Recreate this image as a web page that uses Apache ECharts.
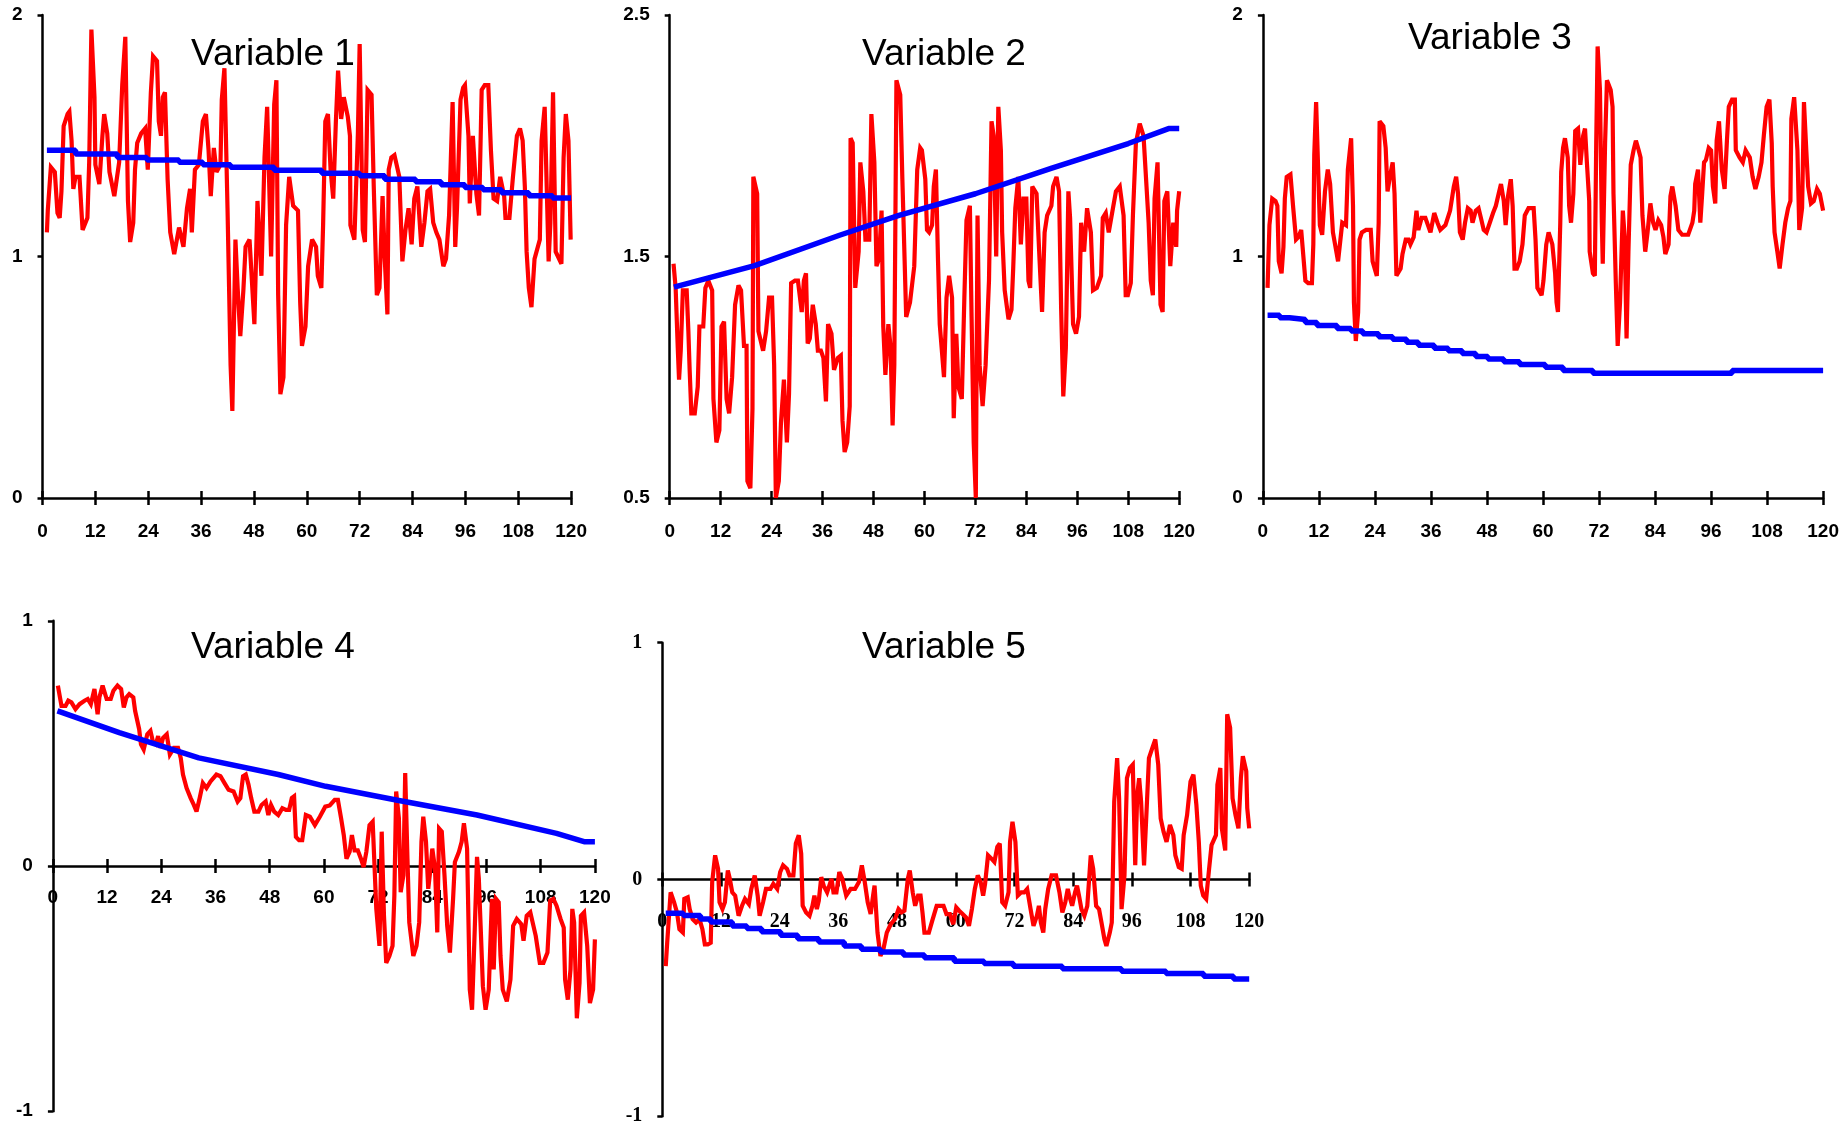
<!DOCTYPE html>
<html>
<head>
<meta charset="utf-8">
<script src="https://cdn.jsdelivr.net/npm/echarts@6/dist/echarts.min.js"></script>
<style>
  html, body { margin: 0; padding: 0; background: #fff; }
  #main { width: 1839px; height: 1124px; }
</style>
</head>
<body>
<div id="main"></div>
<script>
// month axis and panel titles
const xMin = 0, xMax = 120, xStep = 12;
const titles = ['Variable 1', 'Variable 2', 'Variable 3', 'Variable 4', 'Variable 5'];
const yRanges = [[0, 2, 1], [0.5, 2.5, 1], [0, 2, 1], [-1, 1, 1], [-1, 1, 1]];

// series: [month, value]
const v1Red = [[1.0,1.10],[1.2,1.19],[1.9,1.37],[2.8,1.35],[3.4,1.18],[3.9,1.16],[4.3,1.27],[4.8,1.54],[5.7,1.59],[6.1,1.60],[6.6,1.48],[7.0,1.28],[7.5,1.33],[8.4,1.33],[9.1,1.11],[10.2,1.16],[10.6,1.39],[11.1,1.94],[11.8,1.66],[12.0,1.38],[12.9,1.30],[13.6,1.50],[14.0,1.59],[14.7,1.51],[15.2,1.35],[16.3,1.25],[17.4,1.39],[18.1,1.71],[18.8,1.91],[19.4,1.23],[19.9,1.06],[20.6,1.14],[21.0,1.36],[21.5,1.47],[22.4,1.51],[23.3,1.53],[23.9,1.36],[24.6,1.68],[25.1,1.83],[26.0,1.81],[26.4,1.56],[26.9,1.50],[27.3,1.66],[27.8,1.68],[28.4,1.32],[29.0,1.10],[29.9,1.01],[31.0,1.12],[32.0,1.04],[32.8,1.20],[33.5,1.28],[33.9,1.10],[34.6,1.36],[35.5,1.38],[36.4,1.56],[37.1,1.59],[37.7,1.44],[38.2,1.25],[38.9,1.45],[39.5,1.35],[40.4,1.38],[40.7,1.65],[41.3,1.78],[42.0,1.20],[42.7,0.55],[43.1,0.36],[43.8,1.07],[44.3,0.87],[44.9,0.67],[45.6,0.86],[46.1,1.04],[47.0,1.07],[48.1,0.72],[48.8,1.23],[49.7,0.92],[50.4,1.41],[51.0,1.62],[51.9,1.00],[52.6,1.63],[53.1,1.73],[53.5,0.84],[54.0,0.43],[54.7,0.50],[55.3,1.13],[56.0,1.33],[56.9,1.21],[58.0,1.19],[58.5,0.81],[58.9,0.63],[59.7,0.71],[60.3,0.96],[61.2,1.07],[62.1,1.04],[62.5,0.92],[63.3,0.87],[63.7,1.13],[64.2,1.56],[64.8,1.59],[65.4,1.36],[66.0,1.24],[66.6,1.56],[67.1,1.77],[67.8,1.57],[68.4,1.66],[69.3,1.58],[69.8,1.50],[69.9,1.13],[70.8,1.07],[71.6,1.51],[72.0,1.88],[72.7,1.11],[73.2,1.06],[73.8,1.69],[74.7,1.67],[75.2,1.29],[75.9,0.84],[76.5,0.87],[77.2,1.25],[77.7,0.99],[78.3,0.76],[78.6,1.36],[79.2,1.41],[79.9,1.42],[81.0,1.33],[81.7,0.98],[82.4,1.11],[83.1,1.20],[83.8,1.05],[84.4,1.24],[85.1,1.29],[86.0,1.04],[86.7,1.14],[87.4,1.27],[88.0,1.28],[88.7,1.14],[89.4,1.10],[90.1,1.07],[91.0,0.96],[91.6,0.99],[92.3,1.17],[93.1,1.64],[93.7,1.04],[94.1,1.20],[94.9,1.65],[95.5,1.70],[95.9,1.71],[96.7,1.50],[97.0,1.22],[97.7,1.50],[98.5,1.26],[99.1,1.17],[99.7,1.69],[100.4,1.71],[101.2,1.71],[101.8,1.44],[102.4,1.24],[103.2,1.23],[103.9,1.33],[104.8,1.25],[105.1,1.16],[106.0,1.16],[106.8,1.33],[107.7,1.50],[108.4,1.53],[109.0,1.48],[109.5,1.29],[109.9,1.02],[110.4,0.87],[111.0,0.79],[111.7,0.99],[112.9,1.07],[113.3,1.48],[114.0,1.62],[114.9,0.98],[115.3,1.14],[115.9,1.68],[116.5,1.02],[117.8,0.97],[118.3,1.41],[118.8,1.59],[119.4,1.48],[119.9,1.07]];
const v1Trend = [[1,1.44],[7.5,1.425],[17,1.41],[23.7,1.40],[31,1.39],[36.4,1.38],[42.7,1.37],[52.6,1.357],[63.4,1.345],[72,1.335],[77.7,1.32],[84.7,1.31],[90.5,1.297],[95.9,1.286],[100,1.276],[104.2,1.264],[110.4,1.252],[115.8,1.242],[120,1.242]];

const v2Red = [[0.9,1.47],[1.4,1.37],[1.9,1.12],[2.2,0.99],[2.6,1.11],[3.1,1.36],[4.0,1.36],[4.4,1.19],[4.7,1.03],[5.1,0.85],[5.9,0.85],[6.6,0.96],[7.0,1.21],[7.9,1.21],[8.4,1.37],[9.1,1.40],[10.0,1.36],[10.3,0.91],[11.0,0.73],[11.7,0.78],[12.2,1.21],[12.8,1.23],[13.4,0.91],[14.0,0.85],[14.7,1.00],[15.4,1.30],[16.2,1.38],[16.8,1.36],[17.5,1.13],[18.1,1.13],[18.3,0.57],[19.0,0.54],[19.5,0.87],[19.7,1.83],[20.6,1.76],[20.9,1.19],[22.0,1.11],[22.7,1.19],[23.4,1.33],[24.1,1.33],[24.6,1.05],[25.0,0.50],[25.7,0.57],[26.2,0.81],[26.9,0.99],[27.6,0.73],[28.1,0.93],[28.6,1.39],[29.5,1.40],[30.2,1.40],[31.1,1.27],[31.6,1.40],[32.1,1.43],[32.5,1.14],[33.0,1.16],[33.7,1.30],[34.4,1.22],[34.9,1.11],[35.6,1.11],[36.2,1.08],[36.8,0.90],[37.3,1.22],[38.1,1.18],[38.7,1.03],[39.6,1.08],[40.3,1.09],[40.7,0.82],[41.2,0.69],[41.8,0.73],[42.4,0.88],[42.6,1.99],[43.1,1.97],[43.7,1.37],[44.5,1.52],[44.9,1.89],[45.6,1.77],[46.1,1.57],[47.0,1.57],[47.5,2.09],[48.2,1.89],[48.7,1.46],[49.3,1.49],[49.9,1.69],[50.3,1.21],[50.8,1.01],[51.5,1.22],[52.0,1.13],[52.5,0.80],[52.9,1.05],[53.4,2.23],[54.3,2.17],[54.8,1.82],[55.7,1.25],[56.6,1.31],[57.6,1.46],[58.3,1.86],[59.0,1.95],[59.4,1.94],[60.2,1.82],[60.6,1.61],[61.1,1.60],[61.8,1.63],[62.2,1.79],[62.7,1.86],[63.2,1.48],[63.6,1.22],[64.6,1.00],[65.2,1.33],[65.8,1.42],[66.5,1.33],[66.9,0.83],[67.5,1.18],[68.0,0.96],[68.8,0.91],[69.4,1.33],[69.9,1.65],[70.7,1.71],[71.1,1.25],[71.6,0.73],[72.1,0.50],[72.5,1.67],[73.0,1.05],[73.7,0.88],[74.4,1.05],[75.2,1.40],[75.8,2.06],[76.3,2.00],[76.9,1.50],[77.4,2.12],[78.0,1.94],[78.3,1.60],[78.9,1.36],[79.8,1.24],[80.5,1.28],[80.9,1.45],[81.4,1.70],[82.1,1.83],[82.7,1.55],[83.3,1.74],[84.0,1.74],[84.5,1.40],[84.9,1.37],[85.4,1.79],[86.4,1.76],[87.1,1.49],[87.7,1.27],[88.3,1.60],[88.9,1.67],[89.9,1.71],[90.3,1.79],[91.1,1.83],[91.7,1.77],[92.2,1.28],[92.7,0.92],[93.3,1.12],[93.9,1.77],[94.3,1.66],[95.0,1.22],[95.7,1.18],[96.4,1.25],[96.9,1.64],[97.6,1.52],[98.3,1.70],[99.2,1.60],[99.7,1.36],[100.6,1.37],[101.6,1.42],[102.0,1.66],[102.7,1.68],[103.4,1.60],[104.4,1.70],[105.1,1.77],[106.0,1.79],[106.9,1.67],[107.4,1.34],[107.9,1.34],[108.6,1.39],[109.1,1.67],[109.8,1.97],[110.7,2.05],[111.6,2.00],[112.3,1.79],[112.8,1.64],[113.3,1.40],[113.8,1.34],[114.2,1.74],[114.9,1.89],[115.6,1.30],[116.1,1.27],[116.5,1.73],[117.2,1.77],[117.9,1.46],[118.6,1.64],[119.3,1.54],[119.5,1.69],[120.0,1.77]];
const v2Trend = [[1,1.373],[20,1.462],[40,1.588],[54,1.67],[72,1.76],[90,1.866],[108,1.968],[117.5,2.03],[120,2.03]];

const v3Red = [[1.0,0.87],[1.4,1.13],[2.0,1.24],[2.7,1.23],[3.1,1.21],[3.4,0.98],[4.0,0.93],[4.4,1.04],[4.7,1.24],[5.1,1.33],[5.9,1.34],[6.5,1.20],[7.1,1.07],[7.6,1.08],[8.2,1.11],[9.1,0.90],[9.7,0.89],[10.5,0.89],[10.8,1.05],[11.0,1.42],[11.4,1.64],[11.9,1.32],[12.2,1.13],[12.7,1.09],[13.3,1.27],[13.9,1.36],[14.4,1.30],[15.0,1.10],[16.1,0.98],[17.0,1.14],[17.8,1.13],[18.2,1.36],[18.9,1.49],[19.3,1.21],[19.5,0.81],[19.9,0.65],[20.4,0.77],[20.7,1.07],[21.2,1.10],[22.1,1.11],[23.1,1.11],[23.5,0.98],[24.4,0.92],[24.8,1.14],[25.0,1.56],[25.8,1.54],[26.3,1.45],[26.7,1.27],[27.2,1.33],[27.8,1.39],[28.2,1.26],[28.6,0.92],[29.5,0.95],[29.9,1.01],[30.6,1.07],[31.2,1.07],[31.6,1.05],[32.3,1.08],[32.9,1.19],[33.3,1.11],[34.0,1.16],[34.8,1.16],[35.9,1.10],[36.7,1.18],[37.4,1.14],[38.0,1.11],[39.1,1.13],[40.1,1.19],[40.9,1.29],[41.4,1.33],[41.8,1.26],[42.2,1.10],[42.8,1.07],[43.3,1.14],[43.9,1.20],[44.5,1.19],[44.9,1.14],[45.6,1.19],[46.2,1.20],[46.7,1.16],[47.3,1.11],[47.9,1.10],[48.6,1.14],[49.3,1.18],[49.9,1.21],[50.5,1.26],[51.0,1.30],[51.6,1.23],[52.0,1.13],[52.5,1.25],[53.1,1.32],[53.5,1.21],[53.9,0.95],[54.4,0.95],[55.0,0.98],[55.6,1.05],[56.1,1.17],[56.9,1.20],[58.0,1.20],[58.4,1.07],[58.8,0.87],[59.7,0.84],[60.1,0.90],[60.7,1.05],[61.2,1.10],[62.0,1.05],[62.6,0.93],[62.9,0.81],[63.2,0.77],[63.7,1.14],[63.9,1.35],[64.3,1.45],[64.7,1.49],[65.3,1.41],[65.6,1.21],[66.0,1.14],[66.5,1.26],[66.9,1.52],[67.5,1.53],[68.0,1.38],[68.6,1.50],[69.0,1.53],[69.4,1.39],[69.9,1.23],[70.0,1.02],[70.7,0.93],[71.1,0.92],[71.4,1.47],[71.7,1.87],[72.2,1.69],[72.6,1.14],[72.8,0.97],[73.3,1.47],[73.7,1.73],[74.5,1.69],[74.9,1.62],[75.1,1.26],[75.6,0.89],[76.0,0.63],[76.5,0.81],[77.1,1.19],[77.5,1.08],[77.9,0.66],[78.3,1.02],[78.8,1.38],[79.4,1.44],[79.9,1.48],[80.5,1.44],[80.9,1.41],[81.3,1.17],[81.9,1.02],[82.4,1.10],[83.0,1.22],[83.6,1.14],[84.1,1.11],[84.7,1.15],[85.3,1.13],[85.8,1.08],[86.2,1.01],[86.9,1.05],[87.3,1.25],[87.7,1.29],[88.4,1.21],[89.0,1.11],[89.8,1.09],[91.1,1.09],[92.0,1.14],[92.4,1.19],[92.6,1.30],[93.2,1.36],[93.7,1.14],[94.1,1.26],[94.5,1.39],[94.9,1.40],[95.5,1.45],[96.0,1.44],[96.4,1.29],[96.9,1.22],[97.2,1.48],[97.7,1.56],[98.3,1.36],[98.9,1.28],[99.4,1.48],[99.8,1.62],[100.5,1.65],[101.1,1.65],[101.3,1.44],[102.1,1.41],[102.8,1.39],[103.4,1.44],[104.3,1.41],[104.9,1.33],[105.5,1.28],[106.2,1.33],[106.8,1.39],[107.3,1.50],[107.9,1.62],[108.5,1.65],[109.0,1.47],[109.2,1.29],[109.6,1.10],[110.2,1.02],[110.7,0.95],[111.3,1.05],[111.9,1.14],[112.5,1.20],[113.0,1.23],[113.2,1.57],[113.8,1.66],[114.5,1.44],[114.9,1.11],[115.5,1.20],[115.9,1.64],[116.4,1.44],[116.8,1.29],[117.4,1.22],[118.0,1.23],[118.7,1.28],[119.3,1.26],[120.0,1.19]];
const v3Trend = [[1,0.757],[3.6,0.746],[5.7,0.739],[9.1,0.727],[11.6,0.714],[15.9,0.702],[18.9,0.691],[21.4,0.680],[24.8,0.668],[27.8,0.657],[30.8,0.645],[33.3,0.632],[36.7,0.620],[39.7,0.610],[42.7,0.598],[45.6,0.586],[48.2,0.575],[51.6,0.564],[55.0,0.553],[60.5,0.541],[64.3,0.528],[70.7,0.516],[100.5,0.528],[120,0.528]];

const v4Red = [[1.1,0.736],[1.9,0.653],[2.8,0.653],[3.4,0.674],[4.1,0.667],[5.0,0.640],[5.9,0.660],[7.0,0.674],[7.7,0.681],[8.4,0.660],[9.2,0.722],[9.9,0.619],[10.3,0.688],[11.0,0.736],[11.9,0.681],[12.8,0.681],[13.4,0.715],[14.3,0.736],[15.1,0.722],[15.7,0.647],[16.3,0.688],[16.9,0.701],[17.8,0.688],[18.2,0.633],[19.1,0.558],[19.5,0.496],[20.1,0.475],[20.9,0.537],[21.6,0.551],[22.2,0.503],[22.8,0.496],[23.3,0.530],[23.8,0.482],[24.4,0.523],[25.2,0.537],[25.9,0.455],[26.8,0.482],[27.7,0.482],[28.3,0.441],[28.8,0.373],[29.6,0.318],[30.5,0.277],[31.2,0.249],[31.8,0.222],[32.5,0.277],[33.2,0.338],[34.0,0.318],[34.9,0.345],[36.2,0.373],[37.1,0.366],[38.0,0.338],[38.9,0.311],[40.0,0.304],[40.9,0.263],[41.5,0.277],[42.1,0.366],[42.7,0.373],[43.3,0.332],[43.9,0.277],[44.6,0.222],[45.5,0.222],[46.2,0.249],[47.1,0.263],[47.7,0.208],[48.3,0.249],[49.0,0.222],[49.9,0.208],[50.8,0.236],[51.6,0.229],[52.3,0.229],[52.9,0.277],[53.4,0.284],[53.8,0.119],[54.5,0.105],[55.2,0.105],[56.0,0.208],[56.9,0.201],[58.0,0.167],[59.1,0.201],[60.3,0.242],[61.3,0.247],[62.4,0.270],[63.1,0.270],[63.8,0.195],[64.4,0.126],[65.0,0.030],[65.7,0.058],[66.2,0.126],[66.8,0.064],[67.5,0.064],[68.2,0.030],[68.8,-0.004],[69.4,0.058],[70.1,0.167],[70.8,0.181],[71.1,0.188],[71.6,-0.175],[72.3,-0.326],[72.8,0.140],[73.3,-0.203],[73.8,-0.395],[74.5,-0.367],[75.2,-0.326],[75.6,-0.121],[76.0,0.304],[76.6,0.195],[77.0,-0.107],[77.6,-0.038],[78.0,0.379],[78.5,0.030],[78.9,-0.230],[79.8,-0.367],[80.5,-0.326],[81.1,-0.230],[81.6,0.099],[82.0,0.201],[82.6,0.099],[83.1,-0.093],[83.6,-0.011],[84.0,0.071],[84.6,-0.011],[85.1,-0.271],[85.5,0.153],[86.1,0.140],[86.7,-0.038],[87.3,-0.244],[87.9,-0.353],[88.6,-0.134],[89.0,0.016],[89.9,0.058],[90.5,0.099],[91.0,0.174],[91.7,0.071],[92.3,-0.504],[92.8,-0.586],[93.4,-0.258],[93.9,0.037],[94.3,-0.052],[94.7,-0.244],[95.2,-0.490],[95.8,-0.586],[96.5,-0.504],[97.2,-0.134],[97.6,-0.422],[98.1,-0.134],[98.7,-0.148],[99.1,-0.367],[99.6,-0.504],[100.5,-0.552],[101.3,-0.463],[101.9,-0.244],[102.7,-0.216],[103.1,-0.210],[103.7,-0.237],[104.2,-0.305],[104.9,-0.203],[105.7,-0.189],[106.9,-0.285],[107.8,-0.395],[108.6,-0.395],[109.5,-0.353],[110.1,-0.141],[110.8,-0.134],[111.5,-0.162],[112.4,-0.216],[113.1,-0.251],[113.4,-0.463],[114.0,-0.545],[114.6,-0.422],[115.0,-0.175],[115.4,-0.230],[116.0,-0.621],[116.6,-0.477],[116.9,-0.203],[117.6,-0.189],[118.3,-0.326],[118.9,-0.559],[119.6,-0.504],[120.0,-0.299]];
const v4Trend = [[1,0.633],[14.7,0.544],[32.3,0.441],[49.9,0.373],[60.4,0.325],[76.3,0.268],[93.9,0.208],[111.5,0.133],[117.6,0.099],[120,0.099]];

const v5Red = [[0.7,-0.366],[1.0,-0.267],[1.7,-0.054],[2.4,-0.096],[3.0,-0.139],[3.5,-0.210],[4.2,-0.224],[4.5,-0.082],[5.2,-0.075],[5.6,-0.125],[6.2,-0.167],[6.9,-0.182],[7.6,-0.167],[8.2,-0.210],[8.7,-0.274],[9.3,-0.274],[9.9,-0.267],[10.2,-0.011],[10.8,0.102],[11.4,0.045],[11.7,-0.096],[12.3,-0.125],[12.8,-0.096],[13.4,0.038],[13.8,0.003],[14.3,-0.054],[14.9,-0.068],[15.6,-0.153],[16.3,-0.111],[16.9,-0.082],[17.7,-0.104],[18.2,-0.040],[18.9,0.017],[19.5,-0.068],[19.9,-0.153],[20.6,-0.096],[21.2,-0.040],[22.1,-0.040],[22.7,-0.018],[23.5,-0.040],[24.1,0.031],[24.7,0.060],[25.5,0.045],[26.0,0.017],[26.8,0.017],[27.3,0.152],[27.9,0.187],[28.4,0.109],[28.7,-0.111],[29.4,-0.139],[30.1,-0.153],[30.7,-0.111],[31.1,-0.068],[31.6,-0.125],[32.0,-0.089],[32.5,0.010],[33.0,-0.026],[33.7,-0.054],[34.6,0.003],[35.0,-0.054],[35.6,-0.054],[36.2,0.031],[36.8,0.003],[37.6,-0.068],[38.5,-0.040],[39.4,-0.040],[40.2,-0.011],[40.8,0.060],[41.4,-0.011],[42.0,-0.096],[42.6,-0.146],[43.1,-0.068],[43.4,-0.026],[44.0,-0.224],[44.6,-0.323],[45.2,-0.295],[45.9,-0.224],[46.7,-0.189],[47.6,-0.167],[48.3,-0.125],[48.9,-0.139],[49.5,-0.132],[50.2,0.003],[50.6,0.038],[51.2,-0.054],[51.7,-0.111],[52.3,-0.068],[52.8,-0.068],[53.2,-0.139],[53.6,-0.224],[54.5,-0.224],[55.2,-0.174],[56.1,-0.111],[56.9,-0.111],[57.5,-0.111],[58.1,-0.146],[58.8,-0.146],[59.5,-0.189],[60.1,-0.118],[60.7,-0.132],[61.4,-0.146],[62.1,-0.160],[62.7,-0.196],[63.3,-0.125],[63.9,-0.040],[64.5,0.017],[65.1,-0.011],[65.6,-0.068],[66.0,-0.018],[66.6,0.102],[67.3,0.088],[67.9,0.074],[68.5,0.138],[69.0,0.152],[69.5,-0.096],[70.1,-0.111],[70.8,-0.054],[71.1,0.159],[71.6,0.244],[72.2,0.159],[72.7,-0.068],[73.4,-0.054],[74.0,-0.054],[74.6,-0.040],[75.3,-0.125],[75.9,-0.196],[76.6,-0.153],[77.0,-0.111],[77.4,-0.182],[77.9,-0.224],[78.3,-0.125],[78.9,-0.040],[79.6,0.017],[80.5,0.017],[81.2,-0.054],[81.8,-0.139],[82.4,-0.096],[82.9,-0.040],[83.2,-0.068],[83.8,-0.111],[84.4,-0.054],[84.8,-0.026],[85.2,-0.068],[85.7,-0.125],[86.3,-0.153],[86.9,-0.111],[87.6,0.102],[88.1,0.045],[88.7,-0.111],[89.3,-0.125],[89.8,-0.182],[90.4,-0.252],[90.8,-0.281],[91.5,-0.224],[91.9,-0.182],[92.1,0.003],[92.4,0.329],[93.0,0.513],[93.4,0.343],[93.9,-0.125],[94.5,0.017],[95.0,0.428],[95.6,0.471],[96.2,0.485],[96.7,0.060],[97.1,0.357],[97.5,0.428],[97.9,0.329],[98.5,0.060],[99.1,0.329],[99.5,0.513],[100.2,0.556],[100.8,0.591],[101.4,0.485],[101.9,0.258],[102.5,0.201],[103.1,0.159],[103.8,0.230],[104.5,0.187],[104.9,0.102],[105.6,0.052],[106.2,0.045],[106.6,0.187],[107.3,0.272],[108.0,0.414],[108.6,0.443],[109.2,0.315],[109.7,0.159],[110.1,-0.026],[110.6,-0.068],[111.2,-0.082],[111.8,0.045],[112.3,0.145],[113.2,0.187],[113.5,0.400],[114.1,0.471],[114.4,0.216],[115.1,0.123],[115.5,0.698],[116.1,0.641],[116.6,0.343],[117.2,0.272],[117.8,0.216],[118.3,0.428],[118.7,0.521],[119.4,0.457],[119.6,0.301],[120.0,0.216]];
const v5Trend = [[0.7,-0.143],[4.3,-0.152],[7.8,-0.167],[9.9,-0.179],[14.3,-0.196],[17.3,-0.207],[20.3,-0.221],[24.2,-0.235],[27.7,-0.250],[32.0,-0.264],[37.2,-0.281],[40.7,-0.295],[44.6,-0.306],[49.3,-0.319],[53.6,-0.330],[59.7,-0.345],[65.8,-0.355],[71.8,-0.366],[81.8,-0.377],[93.9,-0.387],[103.0,-0.397],[110.7,-0.409],[116.8,-0.420],[120,-0.420]];

const redSeries = [v1Red, v2Red, v3Red, v4Red, v5Red];
const trendSeries = [v1Trend, v2Trend, v3Trend, v4Trend, v5Trend];
const trendStep = [true, false, true, false, true];

// panel boxes in pixels
const panels = [
    { left: 42.5, top: 15.1, width: 528.6, height: 482.8 },
    { left: 669.7, top: 15.1, width: 509.5, height: 482.8 },
    { left: 1262.9, top: 15.1, width: 560.2, height: 482.8 },
    { left: 52.9, top: 620.8, width: 542, height: 490.4 },
    { left: 662.3, top: 642.7, width: 586.9, height: 473.6 }
];
const titlePos = [[268, 31], [939, 31], [1485, 15], [268, 624], [939, 624]];
const xLabelMargin = [24, 24, 24, 22, 32];

const sansNarrow = "'Liberation Sans Narrow', 'Liberation Sans', Arial, sans-serif";
const serif = "'Liberation Serif', 'DejaVu Serif', serif";
const black = '#000';

let grids = [], xAxes = [], yAxes = [], series = [], titleList = [];

panels.forEach((p, i) => {
    const yr = yRanges[i];
    // x axis sits where y = 0 when the range crosses zero
    const zeroOffset = (yr[0] < 0 && yr[1] > 0) ? -p.height * (0 - yr[0]) / (yr[1] - yr[0]) : 0;
    const labelFont = i === 4 ? serif : sansNarrow;
    const labelSize = i === 4 ? 20 : 19;
    grids.push(Object.assign({ outerBoundsMode: 'none', containLabel: false }, p));

    yAxes.push({
        type: 'value', gridIndex: i,
        min: yr[0], max: yr[1], interval: yr[2],
        axisLine: { show: true, onZero: false, lineStyle: { color: black, width: 2.5 } },
        axisTick: { show: true, length: 5, lineStyle: { color: black, width: 2.5 } },
        axisLabel: { color: black, fontFamily: labelFont, fontWeight: 'bold', fontSize: labelSize, margin: 20 },
        splitLine: { show: false }
    });

    // outer ticks + labels
    xAxes.push({
        type: 'value', gridIndex: i, position: 'bottom', offset: zeroOffset,
        min: xMin, max: xMax, interval: xStep,
        axisLine: { show: true, onZero: false, lineStyle: { color: black, width: 2.5 } },
        axisTick: { show: true, length: 7, lineStyle: { color: black, width: 2.5 } },
        axisLabel: { color: black, fontFamily: labelFont, fontWeight: 'bold', fontSize: labelSize, margin: xLabelMargin[i], showMinLabel: true, showMaxLabel: true, hideOverlap: false },
        splitLine: { show: false }
    });
    // inner half of the crossing ticks
    xAxes.push({
        type: 'value', gridIndex: i, position: 'bottom', offset: zeroOffset,
        min: xMin, max: xMax, interval: xStep,
        axisLine: { show: false, onZero: false },
        axisTick: { show: true, inside: true, length: 7, lineStyle: { color: black, width: 2.5 } },
        axisLabel: { show: false },
        splitLine: { show: false }
    });

    series.push({
        type: 'line', xAxisIndex: i * 2, yAxisIndex: i,
        data: redSeries[i], showSymbol: false, symbol: 'none', clip: false,
        lineStyle: { color: '#ff0000', width: 4.2, join: 'miter', miterLimit: 3 }, z: 3
    });
    series.push({
        type: 'line', xAxisIndex: i * 2, yAxisIndex: i,
        data: trendSeries[i], showSymbol: false, symbol: 'none', clip: false,
        step: trendStep[i] ? 'end' : false,
        lineStyle: { color: '#0000ff', width: 5.5 }, z: 4
    });

    titleList.push({
        text: titles[i], left: titlePos[i][0], top: titlePos[i][1], textAlign: 'center',
        textStyle: { color: black, fontFamily: "'Liberation Sans', Arial, sans-serif", fontWeight: 'normal', fontSize: 37 }
    });
});

let option = {
    animation: false,
    backgroundColor: '#fff',
    title: titleList,
    grid: grids,
    xAxis: xAxes,
    yAxis: yAxes,
    series: series
};

const myChart = echarts.init(document.getElementById('main'));
myChart.setOption(option);
</script>
</body>
</html>
